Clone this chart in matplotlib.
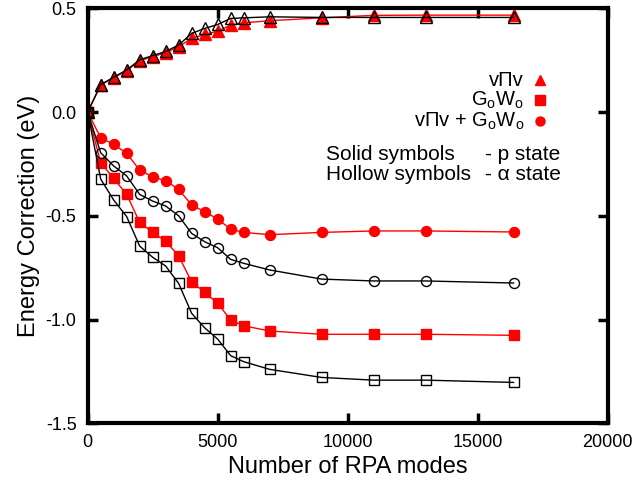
import matplotlib
matplotlib.use("Agg")
import matplotlib.pyplot as plt

plt.rcParams['font.family'] = ['Liberation Sans', 'DejaVu Sans']
plt.rcParams['mathtext.fontset'] = 'custom'
plt.rcParams['mathtext.rm'] = 'Liberation Sans'
plt.rcParams['mathtext.it'] = 'Liberation Sans:italic'

# RPA modes
x = [0, 500, 1000, 1500, 2000, 2500, 3000, 3500, 4000, 4500, 5000, 5500,
     6000, 7000, 9000, 11000, 13000, 16384]

# p state (solid symbols)
vpv_p = [0.0, 0.130, 0.166, 0.199, 0.247, 0.267, 0.286, 0.315, 0.355, 0.374,
         0.390, 0.419, 0.430, 0.440, 0.454, 0.466, 0.467, 0.467]
gw_p = [0.0, -0.244, -0.320, -0.397, -0.532, -0.580, -0.622, -0.694, -0.818,
        -0.869, -0.922, -1.002, -1.030, -1.055, -1.071, -1.071, -1.071, -1.076]
sum_p = [0.0, -0.124, -0.156, -0.199, -0.280, -0.312, -0.331, -0.373, -0.448,
         -0.480, -0.516, -0.564, -0.580, -0.591, -0.580, -0.573, -0.573, -0.578]

# alpha state (hollow symbols)
vpv_a = [0.0, 0.132, 0.168, 0.203, 0.252, 0.272, 0.292, 0.323, 0.379, 0.403,
         0.422, 0.451, 0.454, 0.459, 0.456, 0.456, 0.456, 0.456]
gw_a = [0.0, -0.323, -0.424, -0.504, -0.646, -0.700, -0.742, -0.826, -0.970,
        -1.040, -1.094, -1.174, -1.203, -1.240, -1.279, -1.292, -1.292, -1.303]
sum_a = [0.0, -0.196, -0.260, -0.308, -0.397, -0.429, -0.453, -0.500, -0.585,
         -0.625, -0.654, -0.710, -0.729, -0.761, -0.805, -0.814, -0.814, -0.824]

xticks = [0, 5000, 10000, 15000, 20000]
yticks = [-1.5, -1.0, -0.5, 0.0, 0.5]
ytick_labels = ['-1.5', '-1.0', '-0.5', '0.0', '0.5']

W, H = 639, 487
fig = plt.figure(figsize=(W/100, H/100), dpi=100)
L, R, T, B = 87.7, 607.5, 8.3, 423.3
ax = fig.add_axes([L/W, 1-B/H, (R-L)/W, (B-T)/H])

red = '#ff0000'
ms = 7.2
ax.plot(x, vpv_p, '-', color=red, lw=1, marker='^', ms=ms+1, mfc=red, mec=red)
ax.plot(x, gw_p, '-', color=red, lw=1, marker='s', ms=ms, mfc=red, mec=red)
ax.plot(x, sum_p, '-', color=red, lw=1, marker='o', ms=ms, mfc=red, mec=red)

ax.plot(x, vpv_a, '-', color='black', lw=1, marker='^', ms=ms+1, mfc='none', mec='black', mew=1)
ax.plot(x, gw_a, '-', color='black', lw=1, marker='s', ms=ms, mfc='none', mec='black', mew=1)
ax.plot(x, sum_a, '-', color='black', lw=1, marker='o', ms=ms, mfc='none', mec='black', mew=1)

ax.set_xlim(0, 20000)
ax.set_ylim(-1.5, 0.5)
ax.set_xticks(xticks)
ax.set_xticklabels([str(t) for t in xticks])
ax.set_yticks(yticks)
ax.set_yticklabels(ytick_labels)
ax.tick_params(direction='in', length=7, width=2.5, top=True, right=True,
               labelsize=13, pad=8)
for s in ax.spines.values():
    s.set_linewidth(3)

ax.set_xlabel('Number of RPA modes', fontsize=17, labelpad=3)
ax.set_ylabel('Energy Correction (eV)', fontsize=17, labelpad=4)

def fx(px):
    return px / W

def fy(py):
    return 1 - py / H

# legend-like annotations
tx = fx(524)
fs_leg = 14.5
fig.text(tx, fy(81), 'vΠv', ha='right', va='center', fontsize=fs_leg)
fig.text(tx, fy(100), r'G$_\mathrm{o}$W$_\mathrm{o}$', ha='right', va='center', fontsize=fs_leg)
fig.text(tx, fy(121), r'vΠv + G$_\mathrm{o}$W$_\mathrm{o}$', ha='right', va='center', fontsize=fs_leg)
mx = fx(540)
lms = 6.5
fig.lines.append(plt.Line2D([mx], [fy(80)], transform=fig.transFigure, marker='^', ms=lms+1, color=red, ls='none'))
fig.lines.append(plt.Line2D([mx], [fy(100)], transform=fig.transFigure, marker='s', ms=lms, color=red, ls='none'))
fig.lines.append(plt.Line2D([mx], [fy(121)], transform=fig.transFigure, marker='o', ms=lms, color=red, ls='none'))

fs_note = 15
fig.text(fx(326), fy(154), 'Solid symbols', ha='left', va='center', fontsize=fs_note)
fig.text(fx(485), fy(154), '- p state', ha='left', va='center', fontsize=fs_note)
fig.text(fx(326), fy(174), 'Hollow symbols', ha='left', va='center', fontsize=fs_note)
fig.text(fx(485), fy(174), '- α state', ha='left', va='center', fontsize=fs_note)

fig.savefig('out.png', dpi=100)
